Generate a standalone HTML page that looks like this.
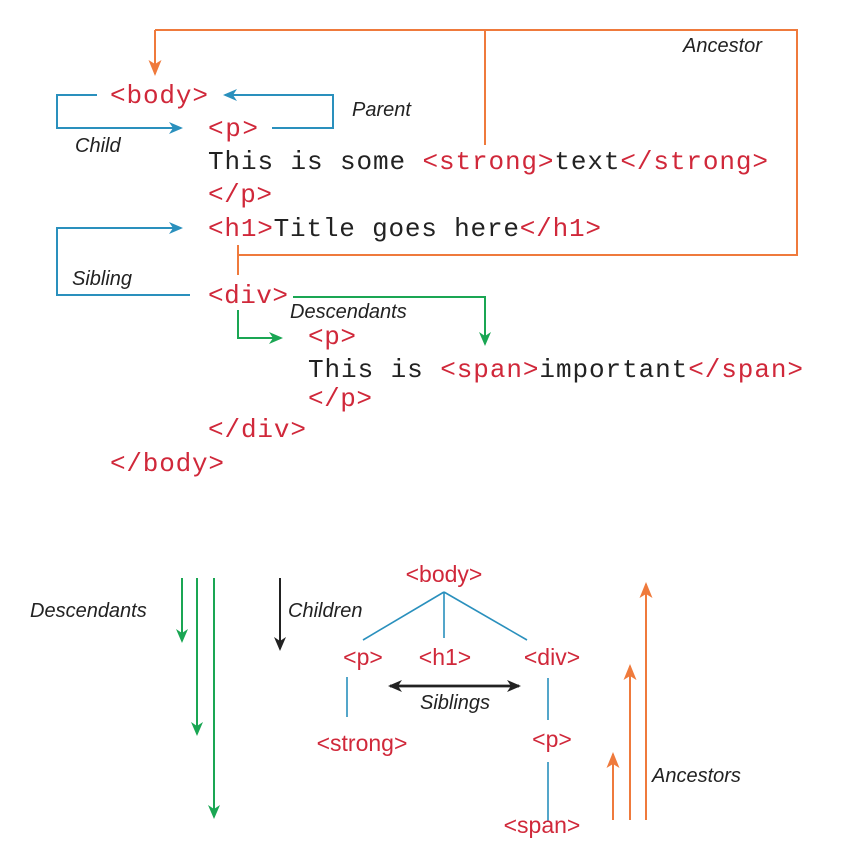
<!DOCTYPE html>
<html><head><style>body{margin:0;background:#fff}svg{display:block}</style></head><body>
<svg width="864" height="861" viewBox="0 0 864 861" xmlns="http://www.w3.org/2000/svg">
<defs>
<marker id="ab" markerWidth="14" markerHeight="12" refX="12" refY="6" orient="auto" markerUnits="userSpaceOnUse"><path d="M0,0 L14,6 L0,12 L4,6z" fill="#2a90bd"/></marker>
<marker id="ag" markerWidth="14" markerHeight="12" refX="12" refY="6" orient="auto" markerUnits="userSpaceOnUse"><path d="M0,0 L14,6 L0,12 L4,6z" fill="#1aa653"/></marker>
<marker id="ak" markerWidth="14" markerHeight="12" refX="12" refY="6" orient="auto" markerUnits="userSpaceOnUse"><path d="M0,0 L14,6 L0,12 L4,6z" fill="#222"/></marker>
<marker id="aO" markerWidth="16" markerHeight="13" refX="14" refY="6.5" orient="auto" markerUnits="userSpaceOnUse"><path d="M0,0 L16,6.5 L0,13 L4,6.5z" fill="#ef7a3c"/></marker>
</defs>
<g fill="none" stroke-width="2">
<path d="M155,30 H797 V255 H238" stroke="#ef7a3c"/>
<path d="M155,30 V74" stroke="#ef7a3c" marker-end="url(#aO)"/>
<path d="M485,30 V145" stroke="#ef7a3c"/>
<path d="M238,245 V275" stroke="#ef7a3c"/>
<path d="M97,95 H57 V128 H181" stroke="#2a90bd" marker-end="url(#ab)"/>
<path d="M272,128 H333 V95 H225" stroke="#2a90bd" marker-end="url(#ab)"/>
<path d="M190,295 H57 V228 H181" stroke="#2a90bd" marker-end="url(#ab)"/>
<path d="M293,297 H485 V344" stroke="#1aa653" marker-end="url(#ag)"/>
<path d="M238,310 V338 H281" stroke="#1aa653" marker-end="url(#ag)"/>
<path d="M444,592 L363,640 M444,592 V638 M444,592 L527,640 M347,677 V717 M548,678 V720 M548,762 V822" stroke="#2a90bd" stroke-width="1.6"/>
<path d="M390,686 H519" stroke="#222" stroke-width="2.5" marker-end="url(#ak)"/>
<path d="M519,686 H390" stroke="#222" stroke-width="2.5" marker-end="url(#ak)"/>
<path d="M182,578 V641" stroke="#1aa653" marker-end="url(#ag)"/>
<path d="M197,578 V734" stroke="#1aa653" marker-end="url(#ag)"/>
<path d="M214,578 V817" stroke="#1aa653" marker-end="url(#ag)"/>
<path d="M280,578 V649" stroke="#222" marker-end="url(#ak)"/>
<path d="M613,820 V754" stroke="#ef7a3c" marker-end="url(#aO)"/>
<path d="M630,820 V666" stroke="#ef7a3c" marker-end="url(#aO)"/>
<path d="M646,820 V584" stroke="#ef7a3c" marker-end="url(#aO)"/>
</g>
<g font-family="Liberation Mono, monospace" font-size="26" fill="#222">
<text x="110" y="103" textLength="98" fill="#d0283a">&lt;body&gt;</text>
<text x="208" y="136" textLength="50" fill="#d0283a">&lt;p&gt;</text>
<text x="208" y="169" textLength="560">This is some <tspan fill="#d0283a">&lt;strong&gt;</tspan>text<tspan fill="#d0283a">&lt;/strong&gt;</tspan></text>
<text x="208" y="202" textLength="64" fill="#d0283a">&lt;/p&gt;</text>
<text x="208" y="236" textLength="393"><tspan fill="#d0283a">&lt;h1&gt;</tspan>Title goes here<tspan fill="#d0283a">&lt;/h1&gt;</tspan></text>
<text x="208" y="303" textLength="80" fill="#d0283a">&lt;div&gt;</text>
<text x="308" y="344" textLength="48" fill="#d0283a">&lt;p&gt;</text>
<text x="308" y="377" textLength="495">This is <tspan fill="#d0283a">&lt;span&gt;</tspan>important<tspan fill="#d0283a">&lt;/span&gt;</tspan></text>
<text x="308" y="406" textLength="64" fill="#d0283a">&lt;/p&gt;</text>
<text x="208" y="437" textLength="98" fill="#d0283a">&lt;/div&gt;</text>
<text x="110" y="471" textLength="114" fill="#d0283a">&lt;/body&gt;</text>
</g>
<g font-family="Liberation Sans, sans-serif" font-size="23" fill="#d0283a" text-anchor="middle">
<text x="444" y="582">&lt;body&gt;</text>
<text x="363" y="665">&lt;p&gt;</text>
<text x="445" y="665">&lt;h1&gt;</text>
<text x="552" y="665">&lt;div&gt;</text>
<text x="362" y="751">&lt;strong&gt;</text>
<text x="552" y="747">&lt;p&gt;</text>
<text x="542" y="833">&lt;span&gt;</text>
</g>
<g font-family="Liberation Sans, sans-serif" font-size="20" font-style="italic" fill="#222">
<text x="683" y="52">Ancestor</text>
<text x="352" y="116">Parent</text>
<text x="75" y="152">Child</text>
<text x="72" y="285">Sibling</text>
<text x="290" y="318">Descendants</text>
<text x="30" y="617">Descendants</text>
<text x="288" y="617">Children</text>
<text x="420" y="709">Siblings</text>
<text x="652" y="782">Ancestors</text>
</g>
</svg>
</body></html>
